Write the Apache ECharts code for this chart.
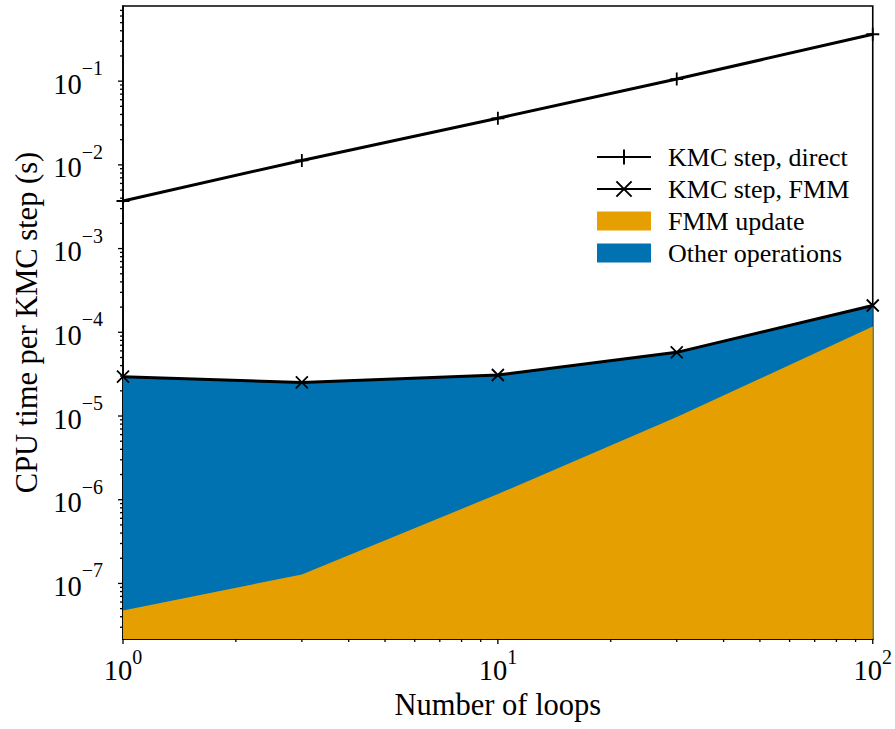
<!DOCTYPE html>
<html>
<head>
<meta charset="utf-8">
<script src="https://cdn.jsdelivr.net/npm/echarts@6/dist/echarts.min.js"></script>
<style>
  html, body { margin: 0; padding: 0; background: #fff; }
  #chart { width: 895px; height: 729px; }
</style>
</head>
<body>
<div id="chart"></div>
<script>
// Number of loops (x) and CPU time per KMC step in seconds (y)
const loops = [1, 3, 10, 30, 100];
const kmcDirect = [3.7e-3, 1.13e-2, 3.6e-2, 1.06e-1, 3.63e-1];
const kmcFmm = [2.95e-5, 2.52e-5, 3.09e-5, 5.76e-5, 2.09e-4];
const fmmUpdate = [4.75e-8, 1.28e-7, 1.17e-6, 9.7e-6, 1.17e-4];

// Axis ranges and tick values
const xRange = [1, 100];
const yRange = [2.17e-8, 0.79];
const xMajorTicks = [1, 10, 100];
const yMajorTicks = [1e-7, 1e-6, 1e-5, 1e-4, 1e-3, 1e-2, 1e-1];
const minorMultipliers = [2, 3, 4, 5, 6, 7, 8, 9];
const xDecades = [1, 10];
const yDecades = [1e-8, 1e-7, 1e-6, 1e-5, 1e-4, 1e-3, 1e-2, 1e-1];

const seriesNames = ['KMC step, direct', 'KMC step, FMM', 'FMM update', 'Other operations'];
const COLOR_ORANGE = '#E69F00';
const COLOR_BLUE = '#0072B2';
const FONT = '"Liberation Serif", "DejaVu Serif", serif';

const pair = (xs, ys) => xs.map((x, i) => [x, ys[i]]);

// Tick marks (outward, left and bottom), drawn through the axis scales
const tickData = [];
const inRange = (v, r) => v >= r[0] * 0.999999 && v <= r[1] * 1.000001;
xMajorTicks.forEach(v => tickData.push([v, yRange[0], 0, 5]));
yMajorTicks.forEach(v => tickData.push([xRange[0], v, 1, 5]));
xDecades.forEach(d => minorMultipliers.forEach(m => {
  const v = d * m;
  if (inRange(v, xRange)) tickData.push([v, yRange[0], 0, 3]);
}));
yDecades.forEach(d => minorMultipliers.forEach(m => {
  const v = d * m;
  if (inRange(v, yRange)) tickData.push([xRange[0], v, 1, 3]);
}));

// "10" with a raised exponent, only on powers of ten
function powLabel(value) {
  const e = Math.round(Math.log10(value));
  if (Math.abs(Math.log10(value) - e) > 1e-6) return '';
  const exp = e < 0 ? '\u2212' + (-e) : String(e);
  return '{b|10}{s|' + exp + '}';
}

const yLabelRich = {
  b: { fontFamily: FONT, fontSize: 28.5, color: '#000', padding: [6, 0, 0, 0] },
  s: { fontFamily: FONT, fontSize: 20, color: '#000', padding: [0, 0, 26, 0] }
};
const xLabelRich = {
  b: { fontFamily: FONT, fontSize: 28.5, color: '#000' },
  s: { fontFamily: FONT, fontSize: 20, color: '#000', padding: [0, 0, 26, 0] }
};

const plusSymbol = 'path://M5,0L5,10M0,5L10,5';
const crossSymbol = 'path://M0,0L10,10M10,0L0,10';

const chart = echarts.init(document.getElementById('chart'), null, { renderer: 'svg' });

chart.setOption({
  animation: false,
  backgroundColor: '#fff',
  textStyle: { fontFamily: FONT },
  grid: {
    left: 123, right: 22, top: 6, bottom: 90,
    show: true, borderColor: '#000', borderWidth: 1.6, backgroundColor: 'transparent'
  },
  legend: {
    orient: 'vertical',
    left: 596, top: 144,
    padding: 0,
    itemWidth: 54, itemHeight: 19,
    itemGap: 6,
    textStyle: { fontFamily: FONT, fontSize: 26, color: '#000', lineHeight: 26, padding: [0, 0, 0, 12] },
    data: [
      { name: seriesNames[0] },
      { name: seriesNames[1] },
      { name: seriesNames[2], icon: 'rect' },
      { name: seriesNames[3], icon: 'rect' }
    ]
  },
  xAxis: {
    type: 'log',
    logBase: 10,
    min: xRange[0], max: xRange[1],
    splitNumber: 2,
    name: 'Number of loops',
    nameLocation: 'middle',
    nameGap: 39,
    nameTextStyle: { fontFamily: FONT, fontSize: 30.5, color: '#000' },
    axisLine: { show: true, lineStyle: { color: '#000', width: 1.6 } },
    axisTick: { show: false },
    minorTick: { show: false },
    splitLine: { show: false },
    axisLabel: { margin: 8, formatter: powLabel, rich: xLabelRich, showMinLabel: true, showMaxLabel: true }
  },
  yAxis: {
    type: 'log',
    logBase: 10,
    min: yRange[0], max: yRange[1],
    splitNumber: 12,
    name: 'CPU time per KMC step (s)',
    nameLocation: 'middle',
    nameGap: 81,
    nameTextStyle: { fontFamily: FONT, fontSize: 30.5, color: '#000' },
    axisLine: { show: true, lineStyle: { color: '#000', width: 1.6 } },
    axisTick: { show: false },
    minorTick: { show: false },
    splitLine: { show: false },
    axisLabel: { margin: 20, formatter: powLabel, rich: yLabelRich, showMinLabel: true, showMaxLabel: true }
  },
  series: [
    {
      name: seriesNames[3],
      type: 'line',
      data: pair(loops, kmcFmm),
      symbol: 'none',
      lineStyle: { width: 0, color: COLOR_BLUE },
      itemStyle: { color: COLOR_BLUE },
      areaStyle: { color: COLOR_BLUE, opacity: 1, origin: 'start' },
      z: 1
    },
    {
      name: seriesNames[2],
      type: 'line',
      data: pair(loops, fmmUpdate),
      symbol: 'none',
      lineStyle: { width: 0, color: COLOR_ORANGE },
      itemStyle: { color: COLOR_ORANGE },
      areaStyle: { color: COLOR_ORANGE, opacity: 1, origin: 'start' },
      z: 2
    },
    {
      name: seriesNames[0],
      type: 'line',
      data: pair(loops, kmcDirect),
      symbol: plusSymbol,
      symbolSize: 13,
      showAllSymbol: true,
      lineStyle: { color: '#000', width: 3 },
      itemStyle: { color: '#000', borderColor: '#000', borderWidth: 1.8 },
      z: 3
    },
    {
      name: seriesNames[1],
      type: 'line',
      data: pair(loops, kmcFmm),
      symbol: crossSymbol,
      symbolSize: 12,
      showAllSymbol: true,
      lineStyle: { color: '#000', width: 3 },
      itemStyle: { color: '#000', borderColor: '#000', borderWidth: 1.8 },
      z: 3
    },
    {
      name: 'ticks',
      type: 'custom',
      silent: true,
      clip: false,
      z: 5,
      data: tickData,
      encode: { x: 0, y: 1 },
      renderItem: function (params, api) {
        const p = api.coord([api.value(0), api.value(1)]);
        const len = api.value(3);
        const shape = api.value(2) === 0
          ? { x1: p[0], y1: p[1], x2: p[0], y2: p[1] + len }
          : { x1: p[0] - len, y1: p[1], x2: p[0], y2: p[1] };
        return { type: 'line', shape: shape, style: { stroke: '#000', lineWidth: 1.3 } };
      }
    }
  ]
});
</script>
</body>
</html>
